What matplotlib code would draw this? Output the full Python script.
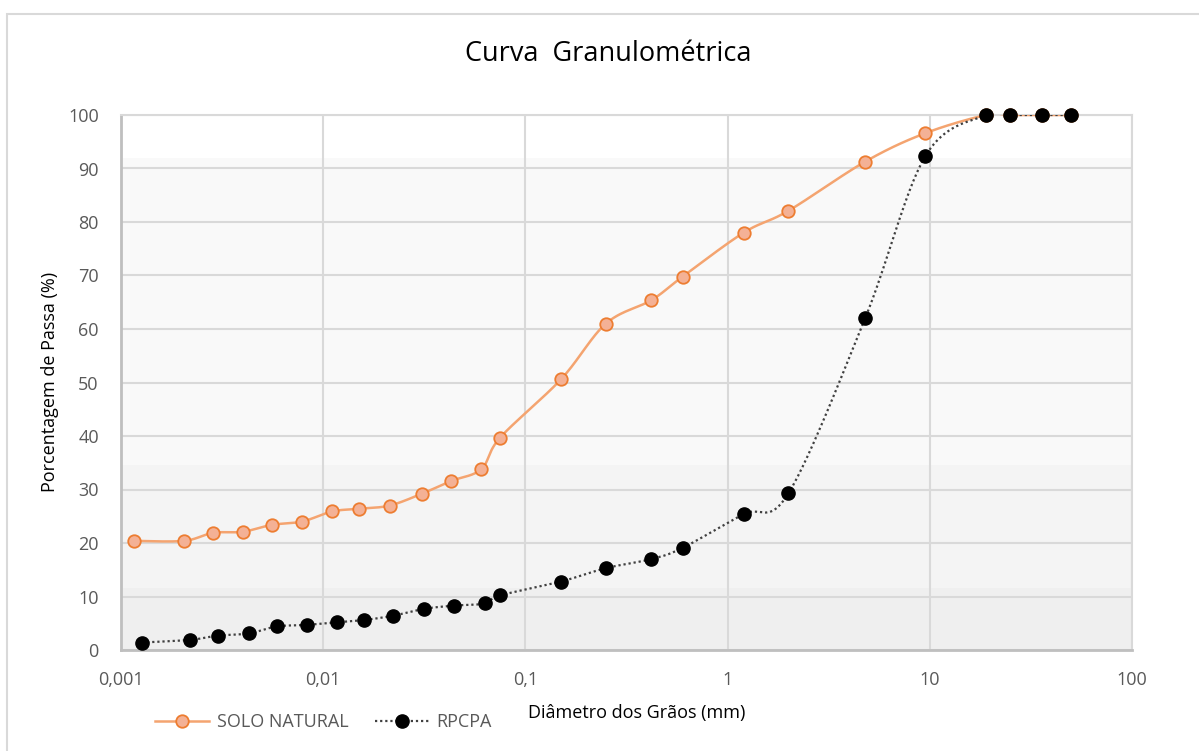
import numpy as np
import matplotlib
matplotlib.use("Agg")
import matplotlib.pyplot as plt
from matplotlib.lines import Line2D
from matplotlib.patches import Rectangle

# ---- data ----
solo_d = [0.00116, 0.00205, 0.00285, 0.0040, 0.00559, 0.00785, 0.0111, 0.0151,
          0.0213, 0.0307, 0.0430, 0.0605, 0.075, 0.15, 0.25, 0.42, 0.6, 1.2,
          2.0, 4.8, 9.5, 19.0, 25.0, 35.7, 50.0]
solo_p = [20.4, 20.4, 21.9, 22.1, 23.4, 24.0, 25.9, 26.4, 27.0, 29.2, 31.6,
          33.8, 39.7, 50.6, 61.0, 65.4, 69.8, 78.0, 82.1, 91.3, 96.6, 100, 100,
          100, 100]

rpcpa_d = [0.00127, 0.0022, 0.00303, 0.00429, 0.00589, 0.00832, 0.01167, 0.01585,
           0.0221, 0.0316, 0.0445, 0.0631, 0.075, 0.15, 0.25, 0.42, 0.6, 1.2,
           2.0, 4.8, 9.5, 19.0, 25.0, 35.7, 50.0]
rpcpa_p = [1.4, 1.9, 2.7, 3.1, 4.4, 4.7, 5.2, 5.6, 6.4, 7.7, 8.3, 8.7, 10.2,
           12.8, 15.3, 17.0, 19.1, 25.4, 29.3, 62.1, 92.3, 100, 100, 100, 100]

xticks = [0.001, 0.01, 0.1, 1, 10, 100]
xtick_labels = ["0,001", "0,01", "0,1", "1", "10", "100"]
yticks = [0, 10, 20, 30, 40, 50, 60, 70, 80, 90, 100]

title = "Curva  Granulométrica"
xlabel = "Diâmetro dos Grãos (mm)"
ylabel = "Porcentagem de Passa (%)"
names = ["SOLO NATURAL", "RPCPA"]

plt.rcParams['font.family'] = ['Open Sans', 'DejaVu Sans']


def smooth(xs, ys, n=30):
    # Catmull-Rom / Bezier curve in (log10 x, y) space scaled to approx pixel space
    u = np.log10(np.asarray(xs, float)) * 202.0
    v = np.asarray(ys, float) * 5.35
    P = np.column_stack([u, v])
    out = []
    for i in range(len(P) - 1):
        p0 = P[i - 1] if i > 0 else P[i]
        p1 = P[i]
        p2 = P[i + 1]
        p3 = P[i + 2] if i + 2 < len(P) else P[i + 1]
        c1 = p1 + (p2 - p0) / 6.0
        c2 = p2 - (p3 - p1) / 6.0
        t = np.linspace(0, 1, n)[:, None]
        seg = ((1 - t) ** 3) * p1 + 3 * ((1 - t) ** 2) * t * c1 + 3 * (1 - t) * t ** 2 * c2 + t ** 3 * p2
        out.append(seg if i == 0 else seg[1:])
    S = np.vstack(out)
    return 10 ** (S[:, 0] / 202.0), S[:, 1] / 5.35


fig = plt.figure(figsize=(11.99, 7.51), dpi=100)
ax = fig.add_axes([121 / 1199, 1 - 650 / 751, (1132 - 121) / 1199, (650 - 115) / 751])

# outer chart frame
fig.patches.append(Rectangle((7 / 1199, -0.05), 1.1, 1 - 14 / 751 + 0.05,
                             transform=fig.transFigure, fill=False,
                             edgecolor='#d9d9d9', linewidth=1.5))

ax.set_xscale('log')
ax.set_xlim(0.001, 100)
ax.set_ylim(0, 100)

# background bands
ax.axhspan(0, 11.6, color='#efefef', zorder=0, lw=0)
ax.axhspan(11.6, 34.6, color='#f4f4f4', zorder=0, lw=0)
ax.axhspan(34.6, 92, color='#f9f9f9', zorder=0, lw=0)
ax.axhspan(92, 100, color='#ffffff', zorder=0, lw=0)

ax.set_xticks(xticks)
ax.set_xticklabels(xtick_labels)
ax.xaxis.set_minor_locator(matplotlib.ticker.NullLocator())
ax.set_yticks(yticks)
ax.grid(True, which='major', color='#d9d9d9', linewidth=1.5, zorder=1)
ax.set_axisbelow(True)
ax.tick_params(length=0, labelsize=13, labelcolor='#595959')
ax.tick_params(axis='x', pad=15)
ax.tick_params(axis='y', pad=16)

for side in ['top', 'right']:
    ax.spines[side].set_color('#d9d9d9')
    ax.spines[side].set_linewidth(1.5)
for side in ['left', 'bottom']:
    ax.spines[side].set_color('#bfbfbf')
    ax.spines[side].set_linewidth(2)

orange_line = '#f4a470'
orange_face = '#f4b195'
orange_edge = '#ed7d31'

sx, sy = smooth(solo_d, solo_p)
ax.plot(sx, sy, color=orange_line, lw=1.8, zorder=3)
ax.plot(solo_d, solo_p, ls='none', marker='o', ms=9, mfc=orange_face,
        mec=orange_edge, mew=1.3, zorder=4, clip_on=False)

rx, ry = smooth(rpcpa_d, rpcpa_p)
ax.plot(rx, ry, color='#404040', lw=1.6, ls=(0, (1, 1.3)), zorder=5)
ax.plot(rpcpa_d, rpcpa_p, ls='none', marker='o', ms=9.5, mfc='black',
        mec='black', zorder=6, clip_on=False)

fig.text(608 / 1199, 1 - 54 / 751, title, ha='center', va='center',
         fontsize=19.5, color='black')
fig.text(637 / 1199, 1 - 713 / 751, xlabel, ha='center', va='center',
         fontsize=13, color='black')
fig.text(50 / 1199, 1 - 382 / 751, ylabel, ha='center', va='center',
         rotation=90, fontsize=13, color='black')

h1 = Line2D([], [], color=orange_line, lw=1.8, marker='o', ms=9,
            mfc=orange_face, mec=orange_edge, mew=1.3)
h2 = Line2D([], [], color='#404040', lw=1.6, ls=(0, (1, 1.3)), marker='o',
            ms=9.5, mfc='black', mec='black')
leg = fig.legend([h1, h2], names, loc='center left',
                 bbox_to_anchor=(139 / 1199, 1 - 722 / 751), ncol=2,
                 frameon=False, fontsize=13, handlelength=3.0,
                 columnspacing=1.5, handletextpad=0.4)
for t in leg.get_texts():
    t.set_color('#595959')

fig.savefig('out.png', dpi=100)
